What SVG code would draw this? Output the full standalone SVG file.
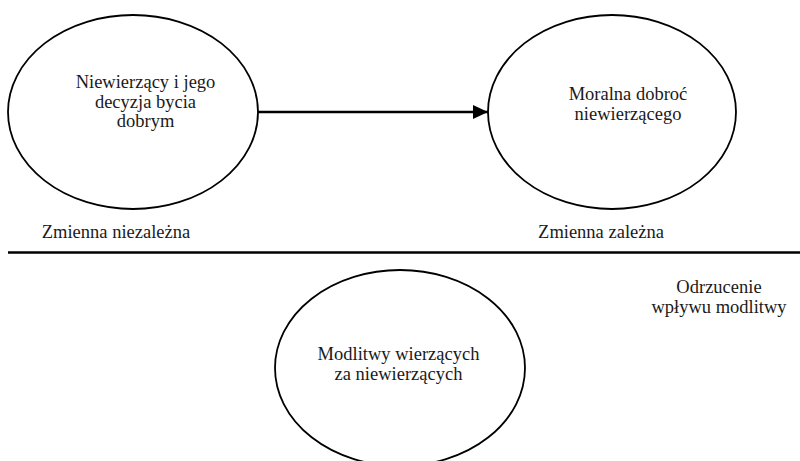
<svg xmlns="http://www.w3.org/2000/svg" width="800" height="461" viewBox="0 0 800 461">
<defs>
<style>
.node{fill:#fff;stroke:#000;stroke-width:1.8}
.t{font-size:18.5px;fill:#1a1a1a;text-anchor:middle}
.conn{stroke:#000;stroke-width:2.5;fill:none}
</style>
<marker id="arrow" markerUnits="userSpaceOnUse" markerWidth="16" markerHeight="14" refX="15" refY="7" orient="auto">
<path d="M0,0 L15,7 L0,14 Z" fill="#000"/>
</marker>
</defs>
<rect width="800" height="461" fill="#fff"/>
<g id="connectors">
<line class="conn" x1="258" y1="112" x2="488" y2="112" marker-end="url(#arrow)"/>
<line class="conn" x1="8" y1="252.5" x2="800" y2="252.5"/>
</g>
<g font-family="'Liberation Serif', 'Times New Roman', 'DejaVu Serif', serif">
<g id="node-niewierzacy">
<ellipse class="node" cx="133" cy="112" rx="125" ry="97"/>
<text class="t" x="145.5" y="88">Niewierzący i jego</text>
<text class="t" x="145.5" y="108">decyzja bycia</text>
<text class="t" x="145.5" y="127">dobrym</text>
</g>
<g id="node-moralna">
<ellipse class="node" cx="612" cy="112" rx="124" ry="97"/>
<text class="t" x="628" y="100">Moralna dobroć</text>
<text class="t" x="628" y="120">niewierzącego</text>
</g>
<g id="label-niezalezna">
<text class="t" x="116" y="238">Zmienna niezależna</text>
</g>
<g id="label-zalezna">
<text class="t" x="601" y="238">Zmienna zależna</text>
</g>
<g id="label-odrzucenie">
<text class="t" x="719" y="293">Odrzucenie</text>
<text class="t" x="719" y="313">wpływu modlitwy</text>
</g>
<g id="node-modlitwy">
<ellipse class="node" cx="400" cy="368" rx="125" ry="98"/>
<text class="t" x="398.5" y="360">Modlitwy wierzących</text>
<text class="t" x="398.5" y="380">za niewierzących</text>
</g>
</g>
</svg>
